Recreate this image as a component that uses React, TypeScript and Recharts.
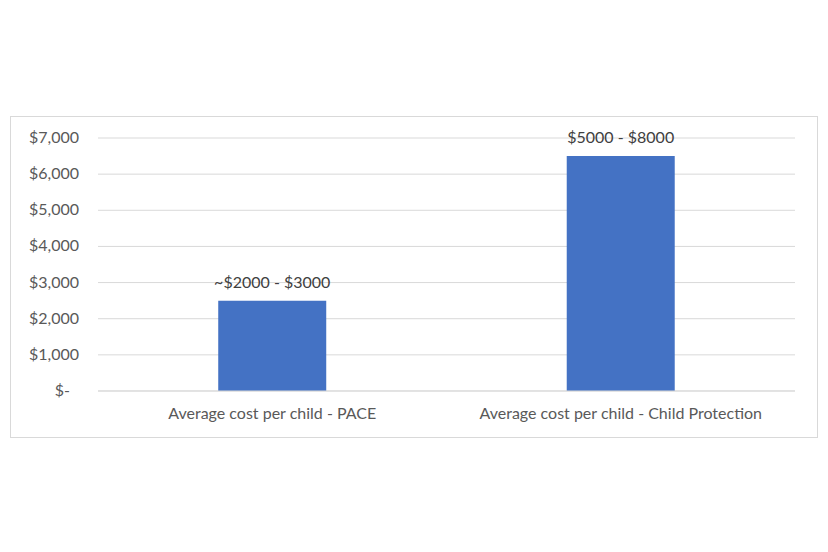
import React from 'react';
import { BarChart, Bar, XAxis, YAxis, CartesianGrid, LabelList } from 'recharts';

const categories = ['Average cost per child - PACE', 'Average cost per child - Child Protection'];
const costs = [2500, 6500];
const rangeLabels = ['~$2000 - $3000', '$5000 - $8000'];
const yTicks = [0, 1000, 2000, 3000, 4000, 5000, 6000, 7000];

const data = categories.map((name, i) => ({
    name,
    cost: costs[i],
    range: rangeLabels[i]
}));

const FONT = 'Lato, "Open Sans", sans-serif';
const GRID = '#d9d9d9';

const formatMoney = (v: number) => (v === 0 ? '$-' : '$' + v.toLocaleString('en-US'));

const YTick = (props: any) => {
    const { x, y, payload } = props;
    // accounting format: the dash of "$-" sits left of the other labels' right edge
    const shift = payload.value === 0 ? -20 : -11;
    return (
        <text x={x + shift} y={y} dy={5} textAnchor="end" fill="#595959" fontSize={16} fontFamily={FONT}>
            {formatMoney(payload.value)}
        </text>
    );
};

const App: React.FC = () => {
    return (
        <div style={{ position: 'relative', width: 828, height: 552, background: 'white' }}>
            <style>{`body { margin: 0; }`}</style>
            <div
                style={{
                    position: 'absolute',
                    left: 10,
                    top: 116,
                    width: 806,
                    height: 320,
                    border: `1px solid ${GRID}`
                }}
            />
            <div style={{ position: 'absolute', left: 0, top: 0 }}>
                <BarChart
                    width={828}
                    height={552}
                    data={data}
                    margin={{ top: 138, right: 33, bottom: 131, left: 38 }}
                    barCategoryGap="34.5%"
                >
                    <CartesianGrid vertical={false} stroke={GRID} strokeWidth={1} />
                    <XAxis
                        dataKey="name"
                        height={30}
                        tickLine={false}
                        axisLine={{ stroke: GRID }}
                        tick={{ fill: '#595959', fontSize: 16, fontFamily: FONT }}
                        tickMargin={11}
                        interval={0}
                    />
                    <YAxis
                        width={60}
                        domain={[0, 7000]}
                        ticks={yTicks}
                        axisLine={false}
                        tickLine={false}
                        tick={<YTick />}
                    />
                    <Bar dataKey="cost" fill="#4472c4" isAnimationActive={false}>
                        <LabelList
                            dataKey="range"
                            position="top"
                            offset={13}
                            fill="#404040"
                            fontSize={16}
                            fontFamily={FONT}
                        />
                    </Bar>
                </BarChart>
            </div>
        </div>
    );
};

export default App;
